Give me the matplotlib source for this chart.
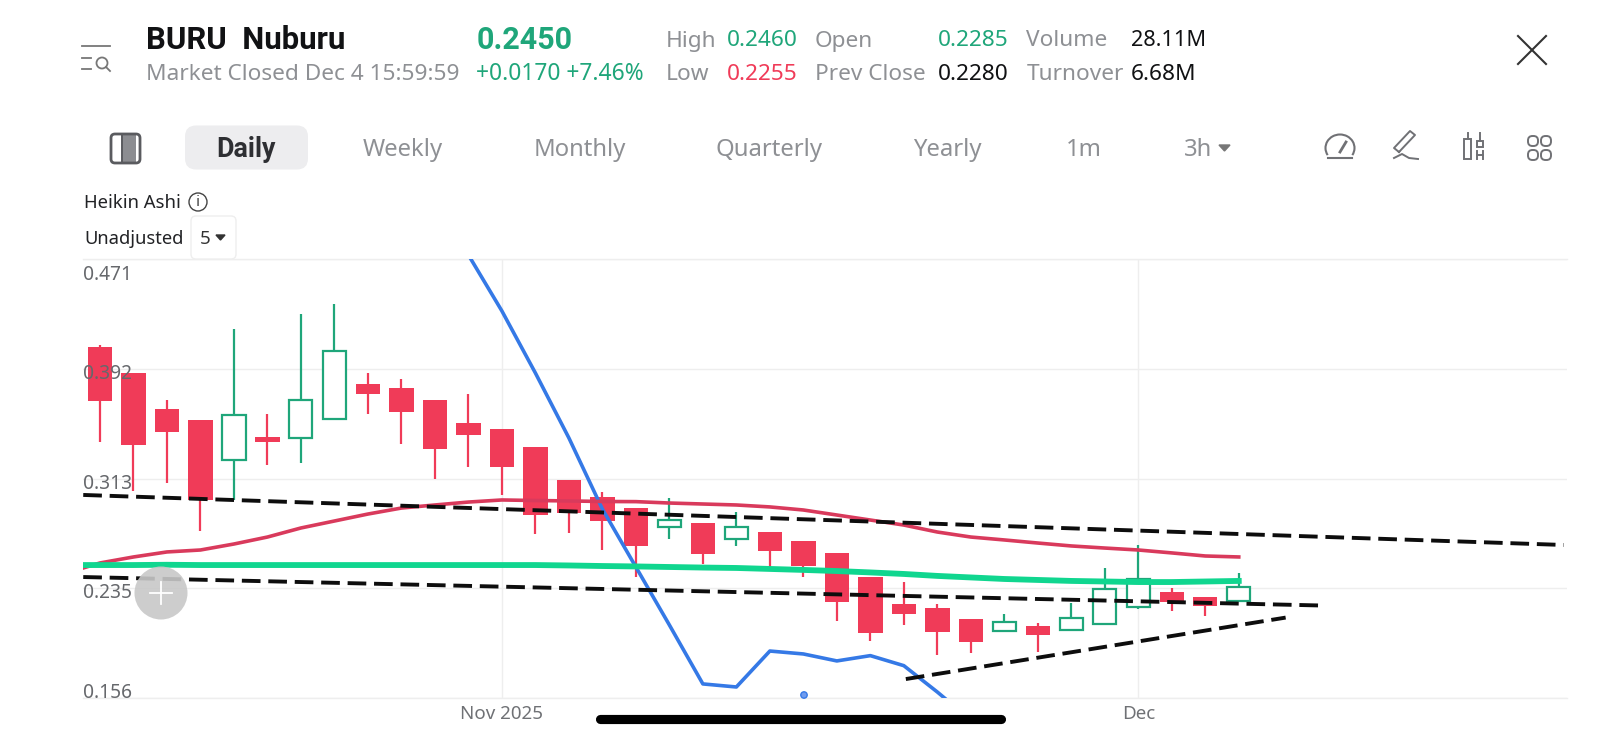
import matplotlib
matplotlib.use('Agg')
import matplotlib.pyplot as plt
from matplotlib.patches import Arc, Circle, FancyBboxPatch, Polygon, Rectangle

plt.rcParams['font.family'] = ['Noto Sans', 'DejaVu Sans']

# Heikin Ashi candles, one per session
ha_open = [.4081, .3890, .3636, .3555, .3268, .3435, .3428, .3564, .3811, .3782, .3700, .3530,
           .3492, .3359, .3122, .3005, .2921, .2785, .2816, .2701, .2749, .2687, .2603, .2426,
           .2232, .2204, .2125, .2041, .2079, .2046, .2089, .2213, .2319, .2287, .2254]
ha_close = [.3693, .3373, .3469, .2981, .3593, .3399, .3700, .4052, .3741, .3612, .3349, .3447,
            .3215, .2875, .2885, .2828, .2653, .2835, .2593, .2787, .2615, .2507, .2247, .2029,
            .2163, .2036, .1962, .2108, .2014, .2134, .2342, .2416, .2247, .2218, .2359]
ha_high = [.4093, .3890, .3696, .3555, .4208, .3598, .4313, .4389, .3892, .3851, .3700, .3739,
           .3492, .3359, .3122, .3036, .2921, .2993, .2816, .2897, .2749, .2687, .2603, .2426,
           .2392, .2235, .2125, .2161, .2096, .2240, .2495, .2660, .2347, .2287, .2455]
ha_low = [.3399, .3048, .3101, .2761, .2981, .3232, .3244, .3564, .3600, .3383, .3129, .3215,
          .3015, .2737, .2742, .2622, .2431, .2699, .2522, .2651, .2502, .2431, .2115, .1967,
          .2086, .1871, .1881, .2041, .1890, .2046, .2089, .2197, .2182, .2149, .2254]

# moving averages, first point sits just left of the visible area
ma_x = list(range(-1, 35))
ma_red = [.2457, .2529, .2572, .2608, .2622, .2665, .2715, .2780, .2830, .2880, .2923, .2945,
          .2966, .2981, .2977, .2974, .2970, .2969, .2959, .2952, .2945, .2931, .2909, .2873,
          .2837, .2801, .2751, .2715, .2694, .2672, .2651, .2636, .2622, .2601, .2579, .2572]
ma_green = [.2514, .2514, .2514, .2516, .2514, .2514, .2514, .2514, .2514, .2514, .2514, .2514,
            .2514, .2514, .2514, .2511, .2507, .2504, .2500, .2496, .2493, .2486, .2479, .2471,
            .2461, .2450, .2436, .2425, .2414, .2407, .2400, .2396, .2392, .2392, .2396, .2400]
ma_blue_x = list(range(10, 27))
ma_blue = [.5133, .4739, .4337, .3892, .3426, .2916, .2500, .2084, .1661, .1639, .1897, .1876,
           .1826, .1864, .1792, .1603, .1402]

# hand drawn trend lines: (x0, x1), (p0, p1)
trend_lines = [((-0.5, 43.7), (.3017, .2658)),
               ((-0.5, 36.4), (.2428, .2224)),
               ((24.06, 35.4), (.1696, .2137))]

y_ticks = [.471, .392, .313, .235, .156]
y_tick_labels = ['0.471', '0.392', '0.313', '0.235', '0.156']
y_label_shift = [-16, -5, -5, -5, 5]
x_ticks = [12, 31]
x_tick_labels = ['Nov 2025', 'Dec']

W, H = 1600, 739
RED = '#F03B58'
GREEN = '#1FA67A'
GRAY = '#8E9094'
DARK = '#111214'
ROW1, ROW2 = 41, 74.5

fig = plt.figure(figsize=(W / 100, H / 100), dpi=100, facecolor='white')

# price panel
left, right, top, bottom = 83, 1567, 259, 698
ax = fig.add_axes([left / W, 1 - bottom / H, (right - left) / W, (bottom - top) / H])
ax.set_xlim(-0.507, 43.8)
ax.set_ylim(.156, .471)
ax.set_facecolor('none')
for s in ['left', 'right']:
    ax.spines[s].set_visible(False)
for s in ['top', 'bottom']:
    ax.spines[s].set_color('#EEEEEE')
    ax.spines[s].set_linewidth(1)
ax.set_yticks(y_ticks)
ax.set_xticks(x_ticks)
ax.set_yticklabels([])
ax.set_xticklabels(x_tick_labels, fontsize=13.5, color='#6F7175')
ax.tick_params(length=0, pad=5)
ax.grid(True, color='#EEEEEE', linewidth=1)
ax.set_axisbelow(True)

# candles
for i, (o, c, h, l) in enumerate(zip(ha_open, ha_close, ha_high, ha_low)):
    up = c >= o
    col = GREEN if up else RED
    ax.vlines(i, l, h, color=col, linewidth=1.6, zorder=2)
    if up:
        ax.bar(i, c - o, bottom=o, width=0.69, facecolor='white', edgecolor=col, linewidth=1.6, zorder=3)
    else:
        ax.bar(i, o - c, bottom=c, width=0.73, color=col, linewidth=0, zorder=3)

ax.plot(ma_blue_x, ma_blue, color='#3579E6', linewidth=2.6, zorder=4)
ax.plot(ma_x, ma_red, color='#D93A5C', linewidth=2.6, zorder=4)
ax.plot(ma_x, ma_green, color='#10D68F', linewidth=4.2, zorder=5)
for xs, ps in trend_lines:
    ax.plot(xs, ps, color='#0D0D0D', linewidth=2.8, linestyle=(0, (4.8, 2.0)), zorder=6)

for p, lab, dy in zip(y_ticks, y_tick_labels, y_label_shift):
    ax.annotate(lab, xy=(0, p), xycoords=ax.get_yaxis_transform(), xytext=(0, dy * 0.72),
                textcoords='offset points', fontsize=13.8, color='#66686C',
                va='center', ha='left', zorder=8)

# everything else in plain pixel coordinates
ui = fig.add_axes([0, 0, 1, 1], facecolor='none')
ui.set_xlim(0, W)
ui.set_ylim(H, 0)
ui.axis('off')

ui.text(146, ROW1 - 1, 'BURU  Nuburu', fontsize=22.4, fontweight='bold', family='Roboto', color=DARK, va='center')
ui.text(476.5, ROW1 - 1, '0.2450', fontsize=22, fontweight='bold', family='Roboto', color=GREEN, va='center')
ui.text(146, ROW2, 'Market Closed Dec 4 15:59:59', fontsize=16.3, color=GRAY, va='center')
ui.text(476.5, ROW2, '+0.0170 +7.46%', fontsize=16.4, color=GREEN, va='center')

header = [(666, ROW1, 'High', GRAY), (726.5, ROW1, '0.2460', GREEN), (666, ROW2, 'Low', GRAY),
          (726.5, ROW2, '0.2255', RED), (815, ROW1, 'Open', GRAY), (938, ROW1, '0.2285', GREEN),
          (815, ROW2, 'Prev Close', GRAY), (938, ROW2, '0.2280', DARK), (1026.5, ROW1, 'Volume', GRAY),
          (1026.5, ROW2, 'Turnover', GRAY), (1130.6, ROW2, '6.68M', DARK)]
for x, y, s, c in header:
    ui.text(x, y, s, fontsize=16.3, color=c, va='center')
ui.text(1130.6, ROW1, '28.11M', fontsize=15.6, color=DARK, va='center')

# close button
ui.plot([1518, 1546], [36, 64], color='#333333', linewidth=1.5)
ui.plot([1518, 1546], [64, 36], color='#333333', linewidth=1.5)

# list icon top left
ui.plot([82, 110], [46, 46], color='#777777', linewidth=1.3)
ui.plot([82, 91], [58, 58], color='#777777', linewidth=1.3)
ui.plot([82, 91], [69, 69], color='#777777', linewidth=1.3)
ui.add_patch(Circle((102, 63), 5.5, fill=False, edgecolor='#777777', linewidth=1.3))
ui.plot([106, 110], [67, 71], color='#777777', linewidth=1.3)

# period tabs
ui.add_patch(FancyBboxPatch((185, 125.5), 123, 44, boxstyle='round,pad=0,rounding_size=11',
                            edgecolor='none', facecolor='#EDEDEF'))
ui.text(246, 149.5, 'Daily', fontsize=19.4, fontweight='bold', family='Roboto', color='#2E2F33', ha='center', va='center')
tabs = [(403, 'Weekly'), (580, 'Monthly'), (769, 'Quarterly'), (947, 'Yearly'), (1084, '1m'), (1198, '3h')]
for x, s in tabs:
    ui.text(x, 150, s, fontsize=17.2, color=GRAY, ha='center', va='center')
ui.add_patch(Polygon([[1219, 145], [1230, 145], [1224.5, 151]], color='#777777'))

# layout icon
ui.add_patch(Rectangle((122, 135), 14, 28, facecolor='#8C8D91', edgecolor='none'))
ui.add_patch(FancyBboxPatch((111, 134), 29, 29, boxstyle='round,pad=0,rounding_size=4', fill=False,
                            edgecolor='#5A5B5F', linewidth=2))
ui.plot([122, 122], [134, 163], color='#5A5B5F', linewidth=1.4)

# toolbar icons, right side
ic = '#707175'
ui.plot([1328, 1352], [158, 158], color=ic, linewidth=1.5)
ui.add_patch(Arc((1340, 148), 29, 27, theta1=150, theta2=30, color=ic, linewidth=1.5))
ui.plot([1340, 1346], [152, 142], color=ic, linewidth=2)
ui.plot([1399, 1415, 1410, 1394, 1399], [152, 135, 131, 148, 152], color=ic, linewidth=1.4)
ui.plot([1394, 1402, 1409, 1418], [158, 154, 158, 159], color=ic, linewidth=1.4)
ui.add_patch(Rectangle((1464, 139), 7, 20, fill=False, edgecolor=ic, linewidth=1.4))
ui.plot([1467.5, 1467.5], [133, 139], color=ic, linewidth=1.4)
ui.add_patch(Rectangle((1477, 141), 6, 6, fill=False, edgecolor=ic, linewidth=1.4))
ui.plot([1480, 1480], [133, 141], color=ic, linewidth=1.4)
ui.plot([1477, 1477], [151, 159], color=ic, linewidth=1.4)
ui.plot([1483, 1483], [151, 159], color=ic, linewidth=1.4)
ui.plot([1477, 1483], [155, 155], color=ic, linewidth=1.4)
for cx in (1533, 1546):
    for cy in (141, 155):
        ui.add_patch(FancyBboxPatch((cx - 5, cy - 5), 10, 10, boxstyle='round,pad=0,rounding_size=4.5',
                                    fill=False, edgecolor=ic, linewidth=1.4))

# chart type row
ui.text(84, 203, 'Heikin Ashi', fontsize=13.3, color='#222326', va='center')
ui.add_patch(Circle((198, 202), 9, fill=False, edgecolor='#444444', linewidth=1))
ui.text(198, 202, 'i', fontsize=11, color='#444444', ha='center', va='center')
ui.text(84, 239, 'Unadjusted', fontsize=13.2, color='#222326', va='center')
ui.add_patch(FancyBboxPatch((191, 216), 45, 43, boxstyle='round,pad=0,rounding_size=5',
                            facecolor='white', edgecolor='#EEEEEE', linewidth=1))
ui.text(205, 239, '5', fontsize=13.5, color='#333333', ha='center', va='center')
ui.add_patch(Polygon([[216, 235], [225, 235], [220.5, 240]], color='#333333'))

# floating add button, blue marker dot, home bar
ui.add_patch(Circle((161, 593), 26.5, facecolor='#C8C8C8', edgecolor='none', alpha=0.9, zorder=7))
ui.plot([150, 172], [593, 593], color='white', linewidth=1.3, zorder=8)
ui.plot([161, 161], [582, 604], color='white', linewidth=1.3, zorder=8)
ui.add_patch(Circle((804, 695), 3.2, facecolor='#6F9BEF', edgecolor='#3579E6', linewidth=1))
ui.plot([600, 1001], [718.5, 718.5], color='black', linewidth=6.6, solid_capstyle='round')

fig.savefig('out.png', dpi=100)
